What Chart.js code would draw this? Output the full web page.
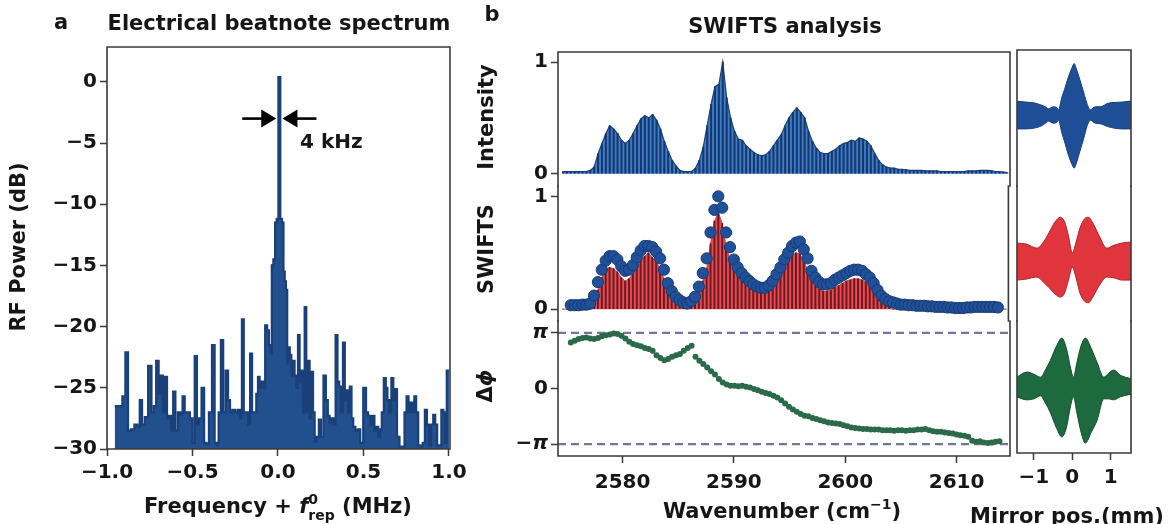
<!DOCTYPE html>
<html><head><meta charset="utf-8"><title>Electrical beatnote spectrum and SWIFTS analysis</title>
<script src="https://cdn.jsdelivr.net/npm/chart.js@4.4.1/dist/chart.umd.min.js"></script>
<style>
html,body{margin:0;padding:0;background:#fff;}
#wrap{position:relative;width:1176px;height:524px;overflow:hidden;background:#fff;}
#wrap canvas{position:absolute;}
</style></head><body><div id="wrap"></div>
<script>
// ================= DATA =================
// Panel a: RF beatnote spectrum
const rfFreq = [-0.955,-0.943,-0.92,-0.90,-0.885,-0.869,-0.85,-0.83,-0.814,-0.803,-0.787,-0.771,-0.748,-0.732,-0.720,-0.705,-0.691,-0.679,-0.668,-0.656,-0.642,-0.631,-0.619,-0.607,-0.593,-0.578,-0.564,-0.552,-0.539,-0.523,-0.507,-0.494,-0.480,-0.468,-0.455,-0.439,-0.425,-0.412,-0.396,-0.376,-0.365,-0.353,-0.341,-0.327,-0.314,-0.298,-0.286,-0.275,-0.259,-0.243,-0.230,-0.216,-0.206,-0.194,-0.181,-0.169,-0.157,-0.146,-0.132,-0.122,-0.112,-0.103,-0.093,-0.081,-0.069,-0.058,-0.048,-0.040,-0.032,-0.022,-0.012,-0.003,0.008,0.019,0.028,0.036,0.043,0.050,0.058,0.065,0.073,0.083,0.092,0.102,0.112,0.122,0.131,0.141,0.151,0.161,0.170,0.180,0.190,0.200,0.210,0.219,0.233,0.245,0.258,0.274,0.286,0.297,0.307,0.317,0.331,0.343,0.353,0.363,0.374,0.386,0.396,0.406,0.415,0.425,0.435,0.445,0.460,0.474,0.488,0.509,0.521,0.533,0.546,0.558,0.570,0.582,0.591,0.601,0.613,0.625,0.636,0.644,0.656,0.670,0.679,0.689,0.703,0.718,0.734,0.746,0.758,0.769,0.781,0.793,0.802,0.814,0.826,0.840,0.853,0.865,0.877,0.888,0.902,0.914,0.925,0.937,0.949,0.962,0.972,0.982,0.992,1.000];
const rfPower = [-26.5,-26.5,-26.5,-25.7,-22.1,-28.5,-28.4,-28.0,-28.2,-26.0,-28.0,-27.4,-23.2,-27.0,-26.5,-22.8,-25.5,-24.0,-27.0,-24.1,-27.5,-27.3,-28.5,-25.3,-28.5,-27.0,-27.2,-25.7,-27.0,-27.0,-27.5,-29.5,-22.4,-28.0,-27.5,-25.0,-29.5,-29.6,-27.0,-21.5,-29.5,-29.6,-27.0,-21.1,-27.0,-23.6,-26.0,-27.0,-26.8,-27.0,-26.8,-27.5,-19.4,-27.0,-27.0,-28.0,-22.2,-27.0,-27.0,-25.5,-24.1,-25.0,-24.5,-25.0,-19.9,-20.3,-21.5,-22.2,-15.0,-14.5,-11.5,-11.2,0.4,-11.2,-11.5,-15.5,-16.3,-17.0,-23.0,-21.7,-22.3,-24.0,-22.8,-24.0,-25.0,-20.7,-24.5,-23.6,-27.0,-18.4,-27.0,-22.8,-27.5,-23.7,-27.0,-29.4,-29.0,-27.6,-29.0,-24.0,-26.0,-27.3,-27.8,-27.5,-28.0,-20.7,-24.5,-24.9,-27.0,-21.3,-26.0,-25.2,-27.0,-24.9,-27.5,-28.2,-28.5,-28.4,-29.5,-25.0,-27.0,-27.3,-28.0,-27.3,-28.5,-28.2,-29.0,-28.4,-27.0,-24.2,-25.0,-26.0,-27.0,-24.2,-26.0,-25.1,-29.0,-29.8,-29.8,-27.0,-25.7,-27.0,-26.2,-27.0,-25.7,-27.0,-29.7,-29.8,-29.5,-26.8,-28.0,-29.7,-28.0,-27.2,-28.0,-29.7,-29.7,-26.8,-27.0,-29.5,-23.6,-23.6];
const rfFreqTicks = [-1.0,-0.5,0.0,0.5,1.0];
const rfFreqTickLabels = ['\u22121.0','\u22120.5','0.0','0.5','1.0'];
const rfPowerTicks = [-30,-25,-20,-15,-10,-5,0];
const rfPowerTickLabels = ['\u221230','\u221225','\u221220','\u221215','\u221210','\u22125','0'];
const linewidthMarker = {y:-3, left:-0.01, right:0.026, label:'4 kHz'};

// Panel b: comb modes (cm^-1)
const modeWn = [2574.65,2575.00,2575.35,2575.70,2576.05,2576.40,2576.75,2577.10,2577.45,2577.80,
2578.15,2578.50,2578.85,2579.20,2579.55,2579.90,2580.25,2580.60,2580.95,2581.30,
2581.65,2582.00,2582.35,2582.70,2583.05,2583.40,2583.75,2584.10,2584.45,2584.80,
2585.15,2585.50,2585.85,2586.20,2586.55,2586.90,2587.25,2587.60,2587.95,2588.30,
2588.65,2589.00,2589.35,2589.70,2590.05,2590.40,2590.75,2591.10,2591.45,2591.80,
2592.15,2592.50,2592.85,2593.20,2593.55,2593.90,2594.25,2594.60,2594.95,2595.30,
2595.65,2596.00,2596.35,2596.70,2597.05,2597.40,2597.75,2598.10,2598.45,2598.80,
2599.15,2599.50,2599.85,2600.20,2600.55,2600.90,2601.25,2601.60,2601.95,2602.30,
2602.65,2603.00,2603.35,2603.70,2604.05,2604.40,2604.75,2605.10,2605.45,2605.80,
2606.15,2606.50,2606.85,2607.20,2607.55,2607.90,2608.25,2608.60,2608.95,2609.30,
2609.65,2610.00,2610.35,2610.70,2611.05,2611.40,2611.75,2612.10,2612.45,2612.80,
2613.15,2613.50,2613.85,2614.20,2614.55];
const intensity = [0.02,0.02,0.02,0.02,0.02,0.02,0.02,0.03,0.06,0.18,
0.27,0.36,0.43,0.40,0.36,0.30,0.27,0.30,0.36,0.43,
0.49,0.52,0.50,0.53,0.48,0.40,0.29,0.20,0.12,0.07,
0.03,0.02,0.02,0.02,0.05,0.12,0.24,0.43,0.62,0.78,
0.80,1.00,0.68,0.50,0.38,0.31,0.30,0.25,0.22,0.19,
0.17,0.16,0.17,0.20,0.25,0.30,0.35,0.43,0.50,0.55,
0.59,0.55,0.50,0.38,0.29,0.23,0.19,0.18,0.18,0.20,
0.22,0.25,0.27,0.28,0.30,0.29,0.32,0.31,0.29,0.25,
0.18,0.12,0.08,0.06,0.05,0.05,0.04,0.04,0.035,0.03,
0.03,0.03,0.03,0.025,0.025,0.025,0.025,0.02,0.02,0.02,
0.02,0.02,0.02,0.02,0.025,0.025,0.025,0.03,0.03,0.03,
0.025,0.02,0.02,0.015,0.01];
const swiftsDots = [null,null,0.035,0.035,0.035,0.04,0.04,0.05,0.12,0.24,
0.35,0.43,0.47,0.47,0.44,0.38,0.34,0.35,0.39,0.46,
0.52,0.56,0.56,0.55,0.51,0.45,0.35,0.23,0.16,0.11,
0.08,0.06,0.05,0.07,0.11,0.20,0.32,0.45,0.68,0.88,
1.00,0.90,0.68,0.55,0.44,0.37,0.32,0.28,0.25,0.22,
0.20,0.19,0.19,0.21,0.25,0.31,0.37,0.44,0.50,0.56,
0.59,0.60,0.53,0.45,0.34,0.28,0.24,0.22,0.22,0.23,
0.26,0.28,0.30,0.32,0.34,0.35,0.35,0.34,0.31,0.28,
0.23,0.17,0.12,0.09,0.07,0.06,0.05,0.04,0.04,0.035,
0.035,0.03,0.03,0.03,0.025,0.025,0.02,0.02,0.02,0.015,
0.015,0.01,0.01,0.01,0.015,0.015,0.02,0.02,0.02,0.02,
0.02,0.02,0.015,null,null];
const swiftsComb = [0,0,0,0,0,0,0,0,0.05,0.17,
0.28,0.35,0.37,0.36,0.33,0.28,0.25,0.27,0.31,0.37,
0.43,0.47,0.50,0.46,0.42,0.36,0.27,0.17,0.11,0.07,
0.05,0.03,0.03,0.04,0.07,0.14,0.25,0.36,0.58,0.78,
0.86,0.76,0.56,0.45,0.35,0.29,0.25,0.22,0.19,0.17,
0.15,0.14,0.14,0.16,0.19,0.24,0.30,0.36,0.42,0.47,
0.50,0.49,0.43,0.35,0.26,0.21,0.18,0.16,0.16,0.17,
0.19,0.21,0.23,0.25,0.26,0.27,0.27,0.26,0.24,0.21,
0.16,0.11,0.07,0.04,0.02,0,0,0,0,0,
0,0,0,0,0,0,0,0,0,0,
0,0,0,0,0,0,0,0,0,0,
0,0,0,0,0];
// phase difference, in units of pi
const phaseOverPi = [null,null,0.83,0.86,0.89,0.91,0.92,0.90,0.89,0.91,
0.94,0.96,0.97,0.99,0.98,0.95,0.90,0.84,0.80,0.78,
0.76,0.73,0.71,0.68,0.60,0.55,0.51,0.53,0.57,0.60,
0.62,0.68,0.73,0.77,0.57,0.50,0.44,0.38,0.31,0.25,
0.17,0.11,0.07,0.05,0.05,0.04,0.05,0.03,0.02,-0.01,
-0.03,-0.06,-0.08,-0.10,-0.13,-0.16,-0.21,-0.27,-0.33,-0.38,
-0.42,-0.46,-0.49,-0.50,-0.53,-0.55,-0.57,-0.59,-0.61,-0.62,
-0.63,-0.64,-0.66,-0.68,-0.70,-0.71,-0.72,-0.73,-0.73,-0.74,
-0.74,-0.74,-0.75,-0.75,-0.75,-0.76,-0.75,-0.75,-0.76,-0.75,
-0.75,-0.74,-0.74,-0.73,-0.75,-0.77,-0.78,-0.78,-0.79,-0.80,
-0.81,-0.83,-0.84,-0.85,-0.87,-0.94,-0.96,-0.95,-0.97,-0.98,
-0.97,-0.96,-0.95,null,null];
const piLevels = [1,-1];
const wnRange = [2574.2, 2614.8];
const wnTicks = [2580,2590,2600,2610];
const wnTickLabels = ['2580','2590','2600','2610'];
const unitTicks = [0,1];
const unitTickLabels = ['0','1'];
const phaseTicks = [-1,0,1];
const phaseTickLabels = ['\u2212\u03c0','0','\u03c0'];

// Interferogram envelopes vs mirror position (mm)
const blueX  = [-1.47,-1.2,-0.96,-0.8,-0.7,-0.62,-0.49,-0.4,-0.36,-0.27,-0.2,-0.1,0.0,0.05,0.1,0.2,0.3,0.38,0.47,0.6,0.73,0.94,1.3,1.53];
const blueUp = [0.27,0.25,0.23,0.19,0.16,0.12,0.16,0.14,0.10,0.35,0.50,0.74,0.93,1.00,0.91,0.68,0.43,0.23,0.10,0.16,0.16,0.23,0.25,0.27];
const blueLo = [-0.27,-0.27,-0.25,-0.21,-0.16,-0.12,-0.16,-0.14,-0.10,-0.35,-0.52,-0.78,-0.97,-1.03,-0.95,-0.70,-0.45,-0.23,-0.10,-0.16,-0.17,-0.23,-0.27,-0.27];
const redX  = [-1.45,-1.2,-0.92,-0.75,-0.6,-0.45,-0.31,-0.2,-0.1,0.0,0.1,0.2,0.32,0.42,0.55,0.7,0.9,1.1,1.3,1.53];
const redUp = [0.33,0.31,0.23,0.35,0.54,0.74,0.83,0.74,0.47,0.14,0.35,0.62,0.80,0.83,0.70,0.47,0.23,0.29,0.33,0.35];
const redLo = [-0.39,-0.37,-0.33,-0.43,-0.54,-0.66,-0.72,-0.64,-0.39,-0.14,-0.35,-0.64,-0.80,-0.83,-0.70,-0.50,-0.33,-0.35,-0.39,-0.39];
const greenX  = [-1.45,-1.18,-1.0,-0.83,-0.7,-0.57,-0.42,-0.27,-0.15,-0.05,0.03,0.12,0.22,0.34,0.5,0.65,0.82,0.95,1.08,1.25,1.53];
const greenUp = [0.19,0.29,0.25,0.19,0.33,0.52,0.78,0.95,0.74,0.39,0.19,0.47,0.78,0.95,0.74,0.47,0.19,0.27,0.33,0.23,0.16];
const greenLo = [-0.19,-0.25,-0.23,-0.17,-0.31,-0.50,-0.78,-0.97,-0.78,-0.39,-0.19,-0.50,-0.85,-1.09,-0.87,-0.64,-0.23,-0.23,-0.25,-0.19,-0.14];
const mirrorRange = [-1.44, 1.53];
const mirrorTicks = [-1,0,1];
const mirrorTickLabels = ['\u22121','0','1'];

// ================= STYLE / HELPERS =================
const FF = '"DejaVu Sans", Verdana, sans-serif';
const INK = '#161616';
const SPINE = '#3a3a3a';
const TS = 21; // title / label size
Chart.defaults.font.family = FF;
Chart.defaults.font.weight = 'bold';
Chart.defaults.font.size = 20;
Chart.defaults.color = INK;

function fontStr(size, style, weight) { return (style||'normal') + ' ' + (weight||'bold') + ' ' + size + 'px ' + FF; }
function rich(ctx, segs, x, y, rot, align) {
  ctx.save(); ctx.translate(x, y); if (rot) ctx.rotate(rot);
  const ws = segs.map(s => { ctx.font = fontStr(s.size||TS, s.style, s.weight); return ctx.measureText(s.t).width; });
  let total = 0; segs.forEach((s,i) => { if (!s.noAdv) total += ws[i]; });
  let cx = align === 'left' ? 0 : -total/2;
  ctx.fillStyle = INK; ctx.textBaseline = 'middle'; ctx.textAlign = 'left';
  segs.forEach((s,i) => { ctx.font = fontStr(s.size||TS, s.style, s.weight); ctx.fillText(s.t, cx, s.dy||0); if (!s.noAdv) cx += ws[i]; });
  ctx.restore();
}
const wrap = document.getElementById('wrap');
function makeChart(L, T, W, H, config) {
  const c = document.createElement('canvas');
  c.width = W; c.height = H;
  c.style.left = L + 'px'; c.style.top = T + 'px'; c.style.width = W + 'px'; c.style.height = H + 'px';
  wrap.appendChild(c);
  const o = config.options;
  o.responsive = false; o.maintainAspectRatio = false; o.animation = false; o.devicePixelRatio = 1;
  o.plugins = Object.assign({legend:{display:false}, tooltip:{enabled:false}}, o.plugins || {});
  return new Chart(c, config);
}
function framePlugin(sides) {
  return {id:'frame', afterDraw(chart) {
    const a = chart.chartArea, ctx = chart.ctx;
    ctx.save(); ctx.strokeStyle = SPINE; ctx.lineWidth = 1.6; ctx.lineCap = 'square'; ctx.beginPath();
    if (sides.includes('t')) { ctx.moveTo(a.left, a.top); ctx.lineTo(a.right, a.top); }
    if (sides.includes('b')) { ctx.moveTo(a.left, a.bottom); ctx.lineTo(a.right, a.bottom); }
    if (sides.includes('l')) { ctx.moveTo(a.left, a.top); ctx.lineTo(a.left, a.bottom); }
    if (sides.includes('r')) { ctx.moveTo(a.right, a.top); ctx.lineTo(a.right, a.bottom); }
    ctx.stroke(); ctx.restore();
  }};
}
function pagePlugin(L, T, fn) {
  return {id:'pagetext', afterDraw(chart) { const ctx = chart.ctx; ctx.save(); ctx.translate(-L, -T); fn(ctx, chart, L, T); ctx.restore(); }};
}
function axis(min, max, opts) {
  opts = opts || {};
  const ax = {
    type:'linear', min:min, max:max, offset:false, display: opts.display !== false,
    grid:{display:true, drawOnChartArea:false, drawTicks:true, tickLength:7, tickWidth:1.5, tickColor:SPINE},
    border:{display:false},
    ticks:{autoSkip:false, maxRotation:0, minRotation:0, padding: opts.pad != null ? opts.pad : 3, color:INK,
      font: opts.font || {size:20, weight:'bold'},
      callback: (v, i) => opts.labels ? opts.labels[i] : v}
  };
  if (opts.ticks) ax.afterBuildTicks = s => { s.ticks = opts.ticks.map(v => ({value:v})); };
  ax.afterFit = s => {
    if (opts.size != null) { if (s.isHorizontal()) s.height = opts.size; else s.width = opts.size; }
    s.paddingTop = 0; s.paddingBottom = 0; s.paddingLeft = 0; s.paddingRight = 0;
  };
  return ax;
}
const xy = (xs, ys) => xs.map((x, i) => ({x:x, y:ys[i]})).filter(p => p.y !== null);

// ================= PANEL a =================
makeChart(0, 0, 470, 524, {
  type:'line',
  data:{datasets:[{data: xy(rfFreq, rfPower), stepped:'middle', fill:'start',
    backgroundColor:'#22508f', borderColor:'#1a4079', borderWidth:2.2, pointRadius:0}]},
  options:{
    layout:{padding:{top:47, right:20, left:0, bottom:0}},
    scales:{
      x: axis(-1, 1.006, {ticks:rfFreqTicks, labels:rfFreqTickLabels, size:75, pad:5}),
      y: axis(-30, 2.85, {ticks:rfPowerTicks, labels:rfPowerTickLabels, size:107})
    }
  },
  plugins:[framePlugin('tlrb'), pagePlugin(0, 0, (ctx, chart) => {
    rich(ctx, [{t:'a'}], 61, 24);
    rich(ctx, [{t:'Electrical beatnote spectrum'}], 279, 25);
    rich(ctx, [{t:'RF Power (dB)'}], 20, 247, -Math.PI/2);
    rich(ctx, [{t:'Frequency + '}, {t:'f', style:'italic'}, {t:'0', size:14, dy:-8, noAdv:true}, {t:'rep', size:14, dy:8}, {t:' (MHz)'}], 278, 508);
    // linewidth arrows
    const sx = chart.scales.x, sy = chart.scales.y;
    const yA = sy.getPixelForValue(linewidthMarker.y);
    const xl = sx.getPixelForValue(linewidthMarker.left), xr = sx.getPixelForValue(linewidthMarker.right);
    ctx.fillStyle = '#000'; ctx.strokeStyle = '#000'; ctx.lineWidth = 2.6;
    ctx.beginPath(); ctx.moveTo(xl - 34, yA); ctx.lineTo(xl - 10, yA); ctx.stroke();
    ctx.beginPath(); ctx.moveTo(xl, yA); ctx.lineTo(xl - 15, yA - 9); ctx.lineTo(xl - 15, yA + 9); ctx.closePath(); ctx.fill();
    ctx.beginPath(); ctx.moveTo(xr + 34, yA); ctx.lineTo(xr + 10, yA); ctx.stroke();
    ctx.beginPath(); ctx.moveTo(xr, yA); ctx.lineTo(xr + 15, yA - 9); ctx.lineTo(xr + 15, yA + 9); ctx.closePath(); ctx.fill();
    rich(ctx, [{t:linewidthMarker.label, size:20}], 300, 143, 0, 'left');
  })]
});

// ================= PANEL b =================
const BL = 470, BW = 545, BYW = 88, BPR = 5;
// Intensity
makeChart(BL, 0, BW, 200, {
  type:'bar',
  data:{datasets:[
    {type:'bar', data: xy(modeWn, intensity), backgroundColor:'#17386c', barThickness:1.4, order:0},
    {type:'line', data: xy(modeWn, intensity), fill:'origin', backgroundColor:'#3d7cc6', borderColor:'#1b3e74', borderWidth:1.2, pointRadius:0, tension:0, order:1}
  ]},
  options:{
    layout:{padding:{top:52, right:BPR, left:0, bottom:14}},
    scales:{
      x: axis(wnRange[0], wnRange[1], {display:false}),
      y: axis(-0.11, 1.09, {ticks:unitTicks, labels:unitTickLabels, size:BYW})
    }
  },
  plugins:[framePlugin('tlr'), pagePlugin(BL, 0, (ctx) => {
    rich(ctx, [{t:'b'}], 492, 16);
    rich(ctx, [{t:'SWIFTS analysis'}], 785, 28);
    rich(ctx, [{t:'Intensity'}], 488, 117, -Math.PI/2);
  })]
});
// SWIFTS
makeChart(BL, 160, BW, 190, {
  type:'bar',
  data:{datasets:[
    {type:'scatter', data: xy(modeWn, swiftsDots), showLine:false, pointRadius:5.6, pointBackgroundColor:'#20509a', pointBorderColor:'#163a70', pointBorderWidth:1, order:0},
    {type:'bar', data: xy(modeWn, swiftsComb), backgroundColor:'#6a1b21', barThickness:1.3, order:1},
    {type:'line', data: xy(modeWn, swiftsComb), fill:'origin', backgroundColor:'#ea4a52', borderColor:'#c9323a', borderWidth:0.8, pointRadius:0, tension:0, order:2}
  ]},
  options:{
    layout:{padding:{top:26, right:BPR, left:0, bottom:29}},
    scales:{
      x: axis(wnRange[0], wnRange[1], {display:false}),
      y: axis(-0.105, 1.092, {ticks:unitTicks, labels:unitTickLabels, size:BYW})
    }
  },
  plugins:[framePlugin('lr'), pagePlugin(BL, 160, (ctx) => {
    rich(ctx, [{t:'SWIFTS'}], 488, 249, -Math.PI/2);
  })]
});
// Phase
makeChart(BL, 300, BW, 224, {
  type:'scatter',
  data:{datasets:[
    {type:'scatter', data: xy(modeWn, phaseOverPi), showLine:false, pointRadius:3, pointBackgroundColor:'#2b6a49', pointBorderColor:'#2b6a49', pointBorderWidth:0, order:0},
    ...piLevels.map(lv => ({type:'line', data: wnRange.map(w => ({x:w, y:lv})), borderColor:'#71769a', borderWidth:2.2, borderDash:[8,5], pointRadius:0, fill:false, order:1}))
  ]},
  options:{
    layout:{padding:{top:21, right:BPR, left:0, bottom:0}},
    scales:{
      x: axis(wnRange[0], wnRange[1], {ticks:wnTicks, labels:wnTickLabels, size:68, pad:8}),
      y: axis(-1.215, 1.215, {ticks:phaseTicks, labels:phaseTickLabels, size:BYW,
        font: (c) => ({size:20, weight:'bold', style: (c.tick && c.tick.value !== 0) ? 'italic' : 'normal'})})
    }
  },
  plugins:[framePlugin('lrb'), pagePlugin(BL, 300, (ctx) => {
    rich(ctx, [{t:'\u0394'}, {t:'\u03d5', style:'italic'}], 487, 386, -Math.PI/2);
    rich(ctx, [{t:'Wavenumber (cm'}, {t:'\u22121', size:14, dy:-8}, {t:')'}], 782, 513);
  })]
});

// ================= Interferograms =================
const RL = 950, RW = 226, RPL = 67, RPR = 45;
function envDatasets(xs, up, lo, fillC, edgeC) {
  return [
    {type:'line', data: xy(xs, up), borderColor:edgeC, borderWidth:1, pointRadius:0, fill:false, cubicInterpolationMode:'monotone'},
    {type:'line', data: xy(xs, lo), borderColor:edgeC, borderWidth:1, pointRadius:0, fill:'-1', backgroundColor:fillC, cubicInterpolationMode:'monotone'}
  ];
}
makeChart(RL, 0, RW, 200, {
  type:'line',
  data:{datasets: envDatasets(blueX, blueUp, blueLo, '#1f4f96', '#173d75')},
  options:{
    layout:{padding:{top:50, right:RPR, left:RPL, bottom:14}},
    scales:{ x: axis(mirrorRange[0], mirrorRange[1], {display:false}), y: axis(-1.379, 1.262, {display:false}) }
  },
  plugins:[framePlugin('tlr')]
});
makeChart(RL, 160, RW, 190, {
  type:'line',
  data:{datasets: envDatasets(redX, redUp, redLo, '#e1353e', '#a8232b')},
  options:{
    layout:{padding:{top:26, right:RPR, left:RPL, bottom:29}},
    scales:{ x: axis(mirrorRange[0], mirrorRange[1], {display:false}), y: axis(-1.184, 1.437, {display:false}) }
  },
  plugins:[framePlugin('lr')]
});
makeChart(RL, 300, RW, 224, {
  type:'line',
  data:{datasets: envDatasets(greenX, greenUp, greenLo, '#1d6a3e', '#134b2b')},
  options:{
    layout:{padding:{top:21, right:RPR, left:RPL, bottom:0}},
    scales:{
      x: axis(mirrorRange[0], mirrorRange[1], {ticks:mirrorTicks, labels:mirrorTickLabels, size:71, pad:6}),
      y: axis(-1.282, 1.282, {display:false})
    }
  },
  plugins:[framePlugin('lrb'), pagePlugin(RL, 300, (ctx) => {
    rich(ctx, [{t:'Mirror pos.(mm)'}], 1067, 518);
  })]
});
</script></body></html>
